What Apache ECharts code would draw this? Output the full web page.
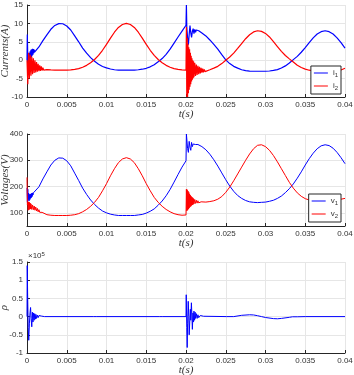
<!DOCTYPE html>
<html>
<head>
<meta charset="utf-8">
<script src="https://cdn.jsdelivr.net/npm/echarts@6/dist/echarts.min.js"></script>
<style>
  html, body { margin: 0; padding: 0; background: #fff; }
  #main { width: 354px; height: 375px; }
</style>
</head>
<body>
<div id="main"></div>
<script>
// sample times of the smooth part, every 0.5 ms from 0 to 40 ms
var tBase = [];
for (var k = 0; k <= 80; k++) tBase.push(k * 0.0005);

// currents (A) on tBase
var i1Base = [-0.1, 0.9, 2.1, 3.6, 5.3, 6.9, 8.4, 9.45, 9.95, 9.9,
  9.3, 8.2, 6.6, 5.0, 3.3, 1.9, 0.7, -0.3, -1.1, -1.7,
  -2.1, -2.4, -2.6, -2.68, -2.7, -2.7, -2.7, -2.68, -2.6, -2.45,
  -2.2, -1.8, -1.25, -0.45, 0.45, 1.6, 3.0, 4.65, 6.3, 7.9,
  9.1, 8.3, 8.0, 7.9, 7.4, 6.6, 5.5, 4.3, 3.0, 1.5,
  0.1, -0.92, -1.67, -2.16, -2.59, -2.82, -2.95, -3.0, -3.0, -3.0,
  -3.0, -2.94, -2.78, -2.55, -2.11, -1.55, -0.78, 0.16, 1.04, 2.16,
  3.44, 4.8, 6.08, 7.12, 7.76, 8.0, 7.76, 7.12, 6.08, 4.8, 3.3];
var i2Base = [-0.5, -1.0, -1.6, -2.05, -2.35, -2.55, -2.65, -2.7, -2.7, -2.7,
  -2.7, -2.65, -2.5, -2.3, -1.9, -1.4, -0.7, 0.2, 1.3, 2.7,
  4.3, 6.0, 7.6, 8.9, 9.7, 10, 9.7, 8.9, 7.6, 6.0,
  4.3, 2.7, 1.3, 0.2, -0.7, -1.4, -1.9, -2.3, -2.5, -2.65,
  -2.7, -2.75, -2.8, -2.82, -2.82, -2.82, -2.59, -2.16, -1.67, -0.92,
  0.0, 0.88, 1.92, 3.2, 4.52, 5.84, 6.92, 7.68, 8.0, 7.84,
  7.28, 6.32, 5.04, 3.72, 2.4, 1.28, 0.36, -0.5, -1.39, -2.0,
  -2.44, -2.72, -2.89, -2.97, -3.0, -3.0, -3.0, -2.97, -2.89, -2.66, -2.2];

// current transients
var i1StartT = [0, 0.00004, 0.0001, 0.00015, 0.0002, 0.00025, 0.0003, 0.00035, 0.0004, 0.00045,
  0.0005, 0.00055, 0.0006, 0.00065, 0.0007, 0.00075, 0.0008, 0.00085, 0.0009, 0.00095];
var i1StartV = [0, 7, 0.5, -0.5, 1.5, 0.2, 2.0, 0.3, 2.4, 0.6,
  2.8, 0.8, 3.0, 1.2, 3.1, 1.5, 3.0, 1.9, 2.9, 2.2];
var i1JumpT = [0.02, 0.02005, 0.0201, 0.0202, 0.0203, 0.0204, 0.0205, 0.0206, 0.0207, 0.0208,
  0.0209, 0.021, 0.0211, 0.0212, 0.0213, 0.0214, 0.0216, 0.0218];
var i1JumpV = [9.5, 15, 9, 6, 4.2, 7, 9.4, 7.5, 6.2, 7.8,
  8.6, 7.2, 8.4, 7.6, 8.2, 7.9, 8.0, 7.8];
var i2StartT = [0, 0.0001, 0.0002, 0.0003, 0.0004, 0.0005, 0.0006, 0.0007, 0.0008, 0.0009,
  0.001, 0.0011, 0.0012, 0.0013, 0.0014, 0.0015, 0.0016, 0.0017, 0.0018, 0.0019,
  0.002, 0.0021, 0.0022];
var i2StartV = [0, -6.5, 2.0, -5.0, 1.5, -4.2, 1.0, -3.8, 0.5, -3.5,
  0.0, -3.3, -0.5, -3.1, -1.0, -3.0, -1.4, -2.9, -1.7, -2.8,
  -2.0, -2.7, -2.25];
var i2JumpT = [0.02, 0.02005, 0.0201, 0.02015, 0.0202, 0.02025, 0.0203, 0.02035, 0.0204, 0.02045,
  0.0205, 0.02055, 0.0206, 0.02065, 0.0207, 0.02075, 0.0208, 0.02085, 0.0209, 0.02095,
  0.021, 0.0211, 0.0212, 0.0213, 0.0214, 0.0215, 0.0216, 0.0217, 0.0218, 0.0219,
  0.022, 0.0221, 0.0222, 0.0223, 0.0224, 0.0225, 0.0226];
var i2JumpV = [-2.7, 9, -10, 6, -10, 4.5, -9, 3.5, -8, 3,
  -7.2, 2, -6.5, 1.2, -5.8, 0.5, -5.3, 0, -4.9, -0.3,
  -4.6, -0.7, -4.3, -1.2, -4.0, -1.5, -3.8, -1.8, -3.6, -2.1,
  -3.4, -2.3, -3.3, -2.5, -3.1, -2.7, -2.95];

// voltages (V) on tBase
var v1Base = [135, 152, 173, 199, 229, 256, 282, 300, 309, 308,
  298, 279, 251, 223, 194, 170, 149, 132, 118, 107,
  100, 95, 92, 90, 90, 90, 90, 90, 92, 94,
  99, 106, 115, 129, 145, 165, 189, 217, 246, 274,
  296, 350, 357, 360, 352, 340, 323, 302, 278, 252,
  226, 202, 182, 166, 155, 147, 142, 140, 139, 140,
  141, 144, 148, 155, 164, 177, 192, 210, 232, 256,
  282, 306, 327, 344, 355, 359, 356, 346, 330, 310, 287];
var v2Base = [120, 119, 109, 101, 96, 93, 91, 90, 90, 90,
  90, 91, 93, 97, 104, 113, 125, 140, 159, 184,
  211, 241, 268, 291, 305, 310, 305, 291, 268, 241,
  211, 184, 159, 140, 125, 113, 104, 97, 93, 91,
  90, 140, 138, 138, 140, 141, 143, 146, 152, 162,
  178, 198, 222, 248, 274, 300, 324, 344, 357, 359,
  352, 338, 318, 294, 268, 242, 216, 194, 176, 163,
  154, 149, 146, 145, 145, 146, 147, 148, 150, 152, 155];

// voltage transients
var v1StartT = [0, 0.00005, 0.0001, 0.00015, 0.0002, 0.00025, 0.0003, 0.00035, 0.0004, 0.00045,
  0.0005, 0.00055, 0.0006, 0.00065, 0.0007, 0.00075, 0.0008, 0.0009];
var v1StartV = [195, 140, 190, 150, 175, 145, 170, 150, 172, 155,
  172, 158, 175, 162, 176, 168, 176, 172];
var v1JumpT = [0.02, 0.02005, 0.0201, 0.0202, 0.0203, 0.0204, 0.0205, 0.0206, 0.0207, 0.0208,
  0.0209, 0.021, 0.0211, 0.0212, 0.0213, 0.0215];
var v1JumpV = [298, 400, 395, 345, 330, 372, 350, 338, 368, 352,
  362, 355, 365, 360, 362, 360];
var v2StartT = [0, 0.00005, 0.0001, 0.00015, 0.0002, 0.00025, 0.0003, 0.00035, 0.0004, 0.00045,
  0.0005, 0.0006, 0.0007, 0.0008, 0.0009, 0.001, 0.0011, 0.0012, 0.0013, 0.0014,
  0.0015, 0.0016, 0.0017, 0.0018, 0.0019, 0.002];
var v2StartV = [235, 130, 140, 110, 142, 112, 140, 114, 137, 115,
  134, 113, 130, 112, 126, 110, 122, 107, 117, 104,
  112, 102, 107, 100, 102, 97];
var v2JumpT = [0.02, 0.02005, 0.0201, 0.02015, 0.0202, 0.02025, 0.0203, 0.02035, 0.0204, 0.02045,
  0.0205, 0.02055, 0.0206, 0.02065, 0.0207, 0.02075, 0.0208, 0.02085, 0.0209, 0.02095,
  0.021, 0.0211, 0.0212, 0.0213, 0.0214, 0.0215, 0.0216, 0.0217, 0.0218, 0.0219, 0.022];
var v2JumpV = [92, 190, 108, 188, 110, 183, 114, 178, 118, 172,
  122, 167, 125, 163, 128, 160, 130, 157, 132, 154,
  134, 151, 136, 148, 137, 146, 138, 144, 139, 142, 140];

// rho, in units of 1e5
var rhoT = [0, 0.00003, 0.00008, 0.00015, 0.00022, 0.0003, 0.00038, 0.00045, 0.00052, 0.0006,
  0.00068, 0.00075, 0.00082, 0.0009, 0.00097, 0.00105, 0.00112, 0.0012, 0.0013, 0.0014,
  0.0015, 0.0016, 0.0018, 0.002, 0.0022,
  0.0084, 0.00848, 0.00856, 0.0087,
  0.0167, 0.01678, 0.01686, 0.017,
  0.02, 0.02003, 0.0201, 0.02015, 0.0202, 0.02028, 0.02035, 0.0204, 0.02048, 0.02055,
  0.0206, 0.02068, 0.02075, 0.0208, 0.02088, 0.02095, 0.021, 0.02108, 0.02115, 0.0212,
  0.0213, 0.0214, 0.0215, 0.0216, 0.0218, 0.022, 0.0222, 0.0224,
  0.0251, 0.02515, 0.0252, 0.0253,
  0.026, 0.027, 0.028, 0.0285, 0.029, 0.0295, 0.03, 0.031, 0.0315, 0.032, 0.033,
  0.0334, 0.0335, 0.0336, 0.034, 0.035, 0.04];
var rhoV = [0, 1.4, 0.6, -0.3, -0.65, -0.2, 0.1, 0.25, -0.05, -0.28,
  0.12, -0.15, 0.1, -0.1, 0.08, -0.07, 0.06, -0.05, 0.04, -0.03,
  0.03, -0.02, 0.015, -0.01, 0,
  0, -0.04, 0.01, 0,
  0, 0.04, -0.01, 0,
  0, 0.6, -0.3, -0.85, -0.2, 0.42, 0.0, -0.5, -0.1, 0.2,
  -0.1, 0.38, 0.0, -0.35, 0.1, -0.15, 0.15, -0.1, 0.12, -0.05,
  0.08, -0.05, 0.05, -0.03, 0.03, -0.01, 0.01, 0,
  0, -0.03, 0.01, 0,
  0, 0.035, 0.05, 0.045, 0.025, 0, -0.025, -0.055, -0.06, -0.05, -0.02,
  -0.005, 0.03, -0.01, -0.005, 0, 0];

function merge(tb, vb, extras) {
  var pts = [];
  tb.forEach(function (t, k) {
    var covered = extras.some(function (e) {
      return t >= e[0][0] - 1e-9 && t <= e[0][e[0].length - 1] + 1e-9;
    });
    if (!covered) pts.push([t, vb[k]]);
  });
  extras.forEach(function (e) {
    e[0].forEach(function (t, k) { pts.push([t, e[1][k]]); });
  });
  pts.sort(function (a, b) { return a[0] - b[0]; });
  return pts;
}
function pairs(ta, va) {
  return ta.map(function (t, k) { return [t, va[k]]; });
}

var i1Data = merge(tBase, i1Base, [[i1StartT, i1StartV], [i1JumpT, i1JumpV]]);
var i2Data = merge(tBase, i2Base, [[i2StartT, i2StartV], [i2JumpT, i2JumpV]]);
var v1Data = merge(tBase, v1Base, [[v1StartT, v1StartV], [v1JumpT, v1JumpV]]);
var v2Data = merge(tBase, v2Base, [[v2StartT, v2StartV], [v2JumpT, v2JumpV]]);
var rhoData = pairs(rhoT, rhoV);

var axisColor = '#262626';
var gridColor = '#e6e6e6';
var nameStyle = { fontFamily: 'Liberation Serif', fontStyle: 'italic', fontSize: 11, color: '#333' };
var tickFont = { fontFamily: 'Liberation Sans', fontSize: 8, color: '#333' };

function xAxis(i) {
  return {
    type: 'value', gridIndex: i, min: 0, max: 0.04, interval: 0.005,
    name: 't(s)', nameLocation: 'middle', nameGap: 12, nameMoveOverlap: false,
    nameTextStyle: Object.assign({}, nameStyle, { fontSize: 11 }),
    axisLine: { onZero: false, lineStyle: { color: axisColor, width: 1 } },
    axisTick: { inside: true, length: 3, lineStyle: { color: axisColor } },
    axisLabel: Object.assign({ margin: 4, formatter: function (v) { return String(+v.toFixed(4)); } }, tickFont),
    splitLine: { show: true, lineStyle: { color: gridColor, width: 1 } }
  };
}
function yAxis(i, name, extra) {
  return Object.assign({
    type: 'value', gridIndex: i,
    name: name, nameLocation: 'middle', nameGap: 16, nameMoveOverlap: false, nameTextStyle: nameStyle,
    axisLine: { show: true, onZero: false, lineStyle: { color: axisColor, width: 1 } },
    axisTick: { show: true, inside: true, length: 3, lineStyle: { color: axisColor } },
    axisLabel: Object.assign({ margin: 4 }, tickFont),
    splitLine: { show: true, lineStyle: { color: gridColor, width: 1 } }
  }, extra);
}
function lineSeries(name, data, idx, color, width) {
  return {
    name: name, type: 'line', xAxisIndex: idx, yAxisIndex: idx, data: data,
    symbol: 'none', animation: false, clip: true,
    lineStyle: { color: color, width: width }, itemStyle: { color: color }
  };
}
function legendAt(top, names) {
  return {
    data: names, orient: 'vertical', right: 13, top: top,
    backgroundColor: '#fff', borderColor: axisColor, borderWidth: 1,
    padding: [3, 3, 3, 3], itemGap: 4, itemWidth: 14, itemHeight: 1, icon: 'rect',
    textStyle: {
      fontFamily: 'Liberation Sans', fontSize: 8, color: '#333',
      rich: { s: { fontFamily: 'Liberation Sans', fontSize: 6, color: '#333', verticalAlign: 'bottom', padding: [4, 0, 0, 0] } }
    },
    formatter: function (n) { return n.charAt(0) + '{s|' + n.slice(1) + '}'; }
  };
}

var myChart = echarts.init(document.getElementById('main'));
var option = {
  backgroundColor: '#fff',
  animation: false,
  grid: [
    { left: 27, top: 5, width: 318, height: 92, outerBoundsMode: 'none', containLabel: false },
    { left: 27, top: 134, width: 318, height: 92, outerBoundsMode: 'none', containLabel: false },
    { left: 27, top: 262, width: 318, height: 91, outerBoundsMode: 'none', containLabel: false }
  ],
  xAxis: [xAxis(0), xAxis(1), xAxis(2)],
  yAxis: [
    yAxis(0, 'Currents(A)', { min: -10, max: 15, interval: 5 }),
    yAxis(1, 'Voltages(V)', {
      min: 50, max: 400,
      axisTick: { show: true, inside: true, length: 3, lineStyle: { color: axisColor }, customValues: [100, 200, 300, 400] },
      axisLabel: Object.assign({ margin: 4, customValues: [100, 200, 300, 400] }, tickFont)
    }),
    yAxis(2, 'ρ', { min: -1, max: 1.5, interval: 0.5, nameGap: 17 })
  ],
  legend: [legendAt(66, ['i1', 'i2']), legendAt(194, ['v1', 'v2'])],
  graphic: [{
    type: 'text', left: 28, top: 251,
    style: {
      text: '×10{sup|5}', fill: '#333',
      font: '8px "Liberation Sans"',
      rich: { sup: { fontSize: 6, fontFamily: 'Liberation Sans', fill: '#333', verticalAlign: 'top', padding: [0, 0, 4, 0] } }
    }
  }],
  series: [
    lineSeries('i1', i1Data, 0, '#0000ff', 1.2),
    lineSeries('i2', i2Data, 0, '#ff0000', 1.2),
    lineSeries('v1', v1Data, 1, '#0000ff', 1),
    lineSeries('v2', v2Data, 1, '#ff0000', 1),
    lineSeries('rho', rhoData, 2, '#0000ff', 1)
  ]
};

if (option && typeof option === 'object') {
  myChart.setOption(option);
}
</script>
</body>
</html>
